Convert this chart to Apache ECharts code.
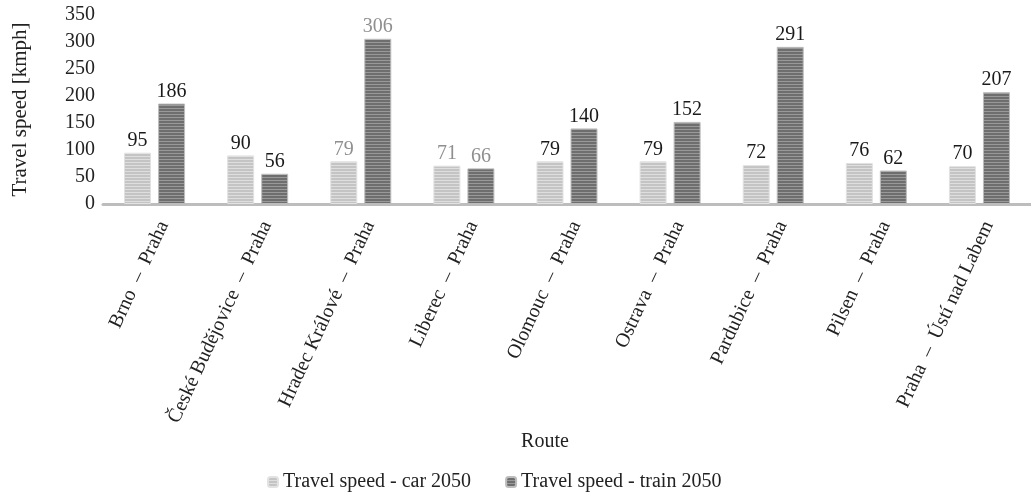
<!DOCTYPE html>
<html>
<head>
<meta charset="utf-8">
<script src="https://cdn.jsdelivr.net/npm/echarts@6/dist/echarts.min.js"></script>
<style>
html,body{margin:0;padding:0;background:#fff;}
#chart{width:1031px;height:499px;}
</style>
</head>
<body>
<div id="chart"></div>
<script>
const routes = ["Brno  –  Praha","České Budějovice  –  Praha","Hradec Králové  –  Praha","Liberec  –  Praha","Olomouc  –  Praha","Ostrava  –  Praha","Pardubice  –  Praha","Pilsen  –  Praha","Praha  –  Ústí nad Labem"];
const carSpeed2050 = [95, 90, 79, 71, 79, 79, 72, 76, 70];
const trainSpeed2050 = [186, 56, 306, 66, 140, 152, 291, 62, 207];
const yTicks = [0, 50, 100, 150, 200, 250, 300, 350];
const seriesNames = ["Travel speed - car 2050", "Travel speed - train 2050"];
const greyLabelRoutes = [2, 3];

function makePattern(base, stripe) {
  const c = document.createElement('canvas');
  c.width = 8; c.height = 6;
  const ctx = c.getContext('2d');
  ctx.fillStyle = base; ctx.fillRect(0, 0, 8, 6);
  ctx.fillStyle = stripe; ctx.fillRect(0, 0, 8, 1); ctx.fillRect(0, 3, 8, 1);
  return { image: c, repeat: 'repeat' };
}
const FONT = '"Liberation Serif", "Times New Roman", serif';
function buildData(values) {
  return values.map((v, i) => ({
    value: v,
    label: { color: greyLabelRoutes.includes(i) ? '#8f8f8f' : '#1a1a1a' }
  }));
}

const chart = echarts.init(document.getElementById('chart'));
chart.setOption({
  animation: false,
  grid: { left: 103, right: -9, top: 15, bottom: 295, containLabel: false },
  legend: {
    bottom: 2, left: 262, itemWidth: 10, itemHeight: 10, itemGap: 34,
    textStyle: { fontFamily: FONT, fontSize: 20, color: '#222' },
    data: seriesNames
  },
  xAxis: {
    type: 'category', data: routes,
    name: 'Route', nameLocation: 'middle', nameGap: 228,
    nameTextStyle: { fontFamily: FONT, fontSize: 20, color: '#222', padding: [0, 44, 0, 0] },
    axisLine: { lineStyle: { color: '#bdbdbd', width: 3 } },
    axisTick: { show: false },
    axisLabel: { rotate: 65, fontFamily: FONT, fontSize: 20, color: '#222', margin: 14,
      interval: 0, verticalAlign: 'top' }
  },
  yAxis: {
    type: 'value', min: 0, max: 350, interval: 50,
    name: 'Travel speed [kmph]', nameLocation: 'middle', nameGap: 72,
    nameTextStyle: { fontFamily: FONT, fontSize: 21, color: '#222' },
    axisLine: { show: false }, axisTick: { show: false }, splitLine: { show: false },
    axisLabel: { fontFamily: FONT, fontSize: 20, color: '#222', margin: 8,
      formatter: v => yTicks.includes(v) ? String(v) : '' }
  },
  series: [
    {
      name: seriesNames[0], type: 'bar', data: buildData(carSpeed2050),
      barWidth: 27, barGap: '26%',
      itemStyle: { color: makePattern('#c4c4c4', '#dedede'), borderColor: '#e2e2e2', borderWidth: 1 },
      label: { show: true, position: 'top', distance: 2, fontFamily: FONT, fontSize: 20 }
    },
    {
      name: seriesNames[1], type: 'bar', data: buildData(trainSpeed2050),
      barWidth: 27,
      itemStyle: { color: makePattern('#6e6e6e', '#999999'), borderColor: '#bdbdbd', borderWidth: 1 },
      label: { show: true, position: 'top', distance: 2, fontFamily: FONT, fontSize: 20 }
    }
  ]
});
</script>
</body>
</html>
